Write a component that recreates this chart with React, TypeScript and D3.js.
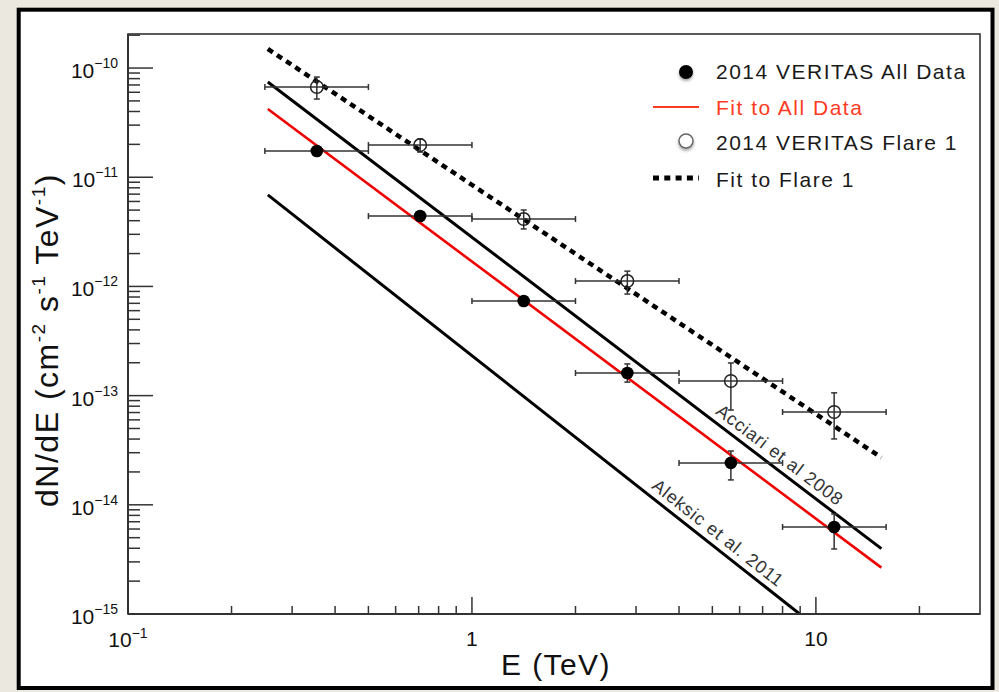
import React from 'react';
import * as d3 from 'd3';

// energy bins (TeV)
const binLow = [0.25, 0.5, 1, 2, 4, 8];
const binHigh = [0.5, 1, 2, 4, 8, 16];
const binCenter = [0.354, 0.707, 1.414, 2.83, 5.66, 11.3];

// 2014 VERITAS All Data
const allFlux = [1.74e-11, 4.41e-12, 7.35e-13, 1.61e-13, 2.42e-14, 6.27e-15];
const allLow = [1.63e-11, 4.14e-12, 6.75e-13, 1.33e-13, 1.69e-14, 3.94e-15];
const allHigh = [1.86e-11, 4.7e-12, 8.0e-13, 1.95e-13, 3.11e-14, 8.24e-15];

// 2014 VERITAS Flare 1
const flareFlux = [6.7e-11, 1.97e-11, 4.14e-12, 1.12e-12, 1.36e-13, 7.08e-14];
const flareLow = [5.2e-11, 1.7e-11, 3.36e-12, 8.51e-13, 7.38e-14, 4.01e-14];
const flareHigh = [8.27e-11, 2.24e-11, 5.01e-12, 1.38e-12, 1.99e-13, 1.06e-13];

// power-law fits: dN/dE = N0 * E^-index (N0 at 1 TeV)
const fitKeys = ['all', 'flare', 'acciari', 'aleksic'];
const fitNorm = [1.69e-12, 8.51e-12, 2.82e-12, 2.32e-13];
const fitIndex = [2.355, 2.098, 2.396, 2.482];
const fitRange = [0.255, 15.5];
const fitLabels = ['', '', 'Acciari et al 2008', 'Aleksic et al. 2011'];

const legendLabels = ['2014 VERITAS All Data', 'Fit to All Data', '2014 VERITAS Flare 1', 'Fit to Flare 1'];

const FONT = '"Liberation Sans", Arial, Helvetica, sans-serif';

export default function App() {
  const W = 999;
  const H = 692;
  const left = 128, right = 980, top = 34, bottom = 614;

  const x = d3.scaleLog().domain([0.1, 30]).range([left, right]);
  const y = d3.scaleLog().domain([1e-15, 2.05e-10]).range([bottom, top]);

  const isMajor = (v: number) => Math.abs(Math.log10(v) - Math.round(Math.log10(v))) < 1e-6;

  const xTicks = x.ticks().filter(v => v < 30);
  const yTicks = y.ticks();

  const powerLaw = (i: number) => (e: number) => fitNorm[i] * Math.pow(e, -fitIndex[i]);
  const line = d3.line<number[]>().x(d => x(d[0])).y(d => y(d[1]));

  const fitStyle: Record<string, any> = {
    all: { stroke: '#f00000', strokeWidth: 2.6 },
    flare: { stroke: '#000', strokeWidth: 4.5, strokeDasharray: '6 5' },
    acciari: { stroke: '#000', strokeWidth: 3 },
    aleksic: { stroke: '#000', strokeWidth: 3 },
  };
  const labelE: Record<string, number> = { acciari: 7.45, aleksic: 4.92 };

  const errColor = '#333';
  const cap = 3;

  const drawErrors = (flux: number[], lo: number[], hi: number[]) =>
    flux.map((f, i) => {
      const cx = x(binCenter[i]);
      const cy = y(f);
      const x0 = x(binLow[i]);
      const x1 = x(binHigh[i]);
      const y0 = y(hi[i]);
      const y1 = y(lo[i]);
      return (
        <g key={i} stroke={errColor} strokeWidth={1.5} fill="none">
          <line x1={x0} x2={x1} y1={cy} y2={cy} />
          <line x1={x0} x2={x0} y1={cy - cap} y2={cy + cap} />
          <line x1={x1} x2={x1} y1={cy - cap} y2={cy + cap} />
          <line x1={cx} x2={cx} y1={y0} y2={y1} />
          <line x1={cx - cap} x2={cx + cap} y1={y0} y2={y0} />
          <line x1={cx - cap} x2={cx + cap} y1={y1} y2={y1} />
        </g>
      );
    });

  const legendY = [72, 107, 141, 178];
  const legendTextY = [79, 115, 150, 187];

  return (
    <div style={{ position: 'absolute', left: 0, top: 0 }}>
      <svg width={W} height={H} style={{ display: 'block', fontFamily: FONT }}>
        <defs>
          <clipPath id="plotClip">
            <rect x={left} y={top} width={right - left} height={bottom - top} />
          </clipPath>
          <filter id="shadow" x="-50%" y="-50%" width="200%" height="200%">
            <feDropShadow dx="0" dy="2" stdDeviation="1.5" floodColor="#000" floodOpacity="0.35" />
          </filter>
        </defs>

        <rect x={0} y={0} width={W} height={H} fill="#ebe8e0" />
        <rect x={18.7} y={9.7} width={973.8} height={678.3} fill="#fff" stroke="#000" strokeWidth={4} />

        {/* fit lines */}
        <g clipPath="url(#plotClip)" fill="none">
          {fitKeys.map((k, i) => {
            const f = powerLaw(i);
            return <path key={k} d={line([[fitRange[0], f(fitRange[0])], [fitRange[1], f(fitRange[1])]]) || ''} {...fitStyle[k]} />;
          })}
        </g>

        {/* labels along reference lines */}
        {fitKeys.map((k, i) => {
          if (!fitLabels[i]) return null;
          const f = powerLaw(i);
          const ax = x(fitRange[0]), ay = y(f(fitRange[0]));
          const bx = x(fitRange[1]), by = y(f(fitRange[1]));
          const angle = (Math.atan2(by - ay, bx - ax) * 180) / Math.PI;
          const px = x(labelE[k]);
          const py = y(f(labelE[k]));
          return (
            <text key={k} transform={`translate(${px},${py}) rotate(${angle})`} dy={-7} textAnchor="middle"
              fontSize={18} letterSpacing={0.9} fill="#333">
              {fitLabels[i]}
            </text>
          );
        })}

        {/* data points */}
        {drawErrors(allFlux, allLow, allHigh)}
        {drawErrors(flareFlux, flareLow, flareHigh)}
        {allFlux.map((f, i) => (
          <circle key={'a' + i} cx={x(binCenter[i])} cy={y(f)} r={6.3} fill="#000" />
        ))}
        {flareFlux.map((f, i) => (
          <circle key={'f' + i} cx={x(binCenter[i])} cy={y(f)} r={6.3} fill="none" stroke="#222" strokeWidth={1.5} />
        ))}

        {/* frame */}
        <rect x={left} y={top} width={right - left} height={bottom - top} fill="none" stroke="#333" strokeWidth={1.6} />
        <line x1={left} x2={left} y1={top} y2={bottom} stroke="#333" strokeWidth={2} />
        <line x1={left} x2={right} y1={bottom} y2={bottom} stroke="#333" strokeWidth={2} />

        {/* x axis ticks */}
        {xTicks.map(v => (
          <line key={'xt' + v} x1={x(v)} x2={x(v)} y1={bottom} y2={bottom - (isMajor(v) ? 17 : 8)} stroke="#333" strokeWidth={1.5} />
        ))}
        {xTicks.filter(isMajor).map(v => {
          const p = Math.round(Math.log10(v));
          if (p === -1) {
            return (
              <text key={'xl' + v} x={x(v)} y={647} textAnchor="middle" fontSize={21} fill="#111">
                10<tspan fontSize={14} dy={-9}>−1</tspan>
              </text>
            );
          }
          return (
            <text key={'xl' + v} x={x(v)} y={646} textAnchor="middle" fontSize={21} fill="#111">
              {v >= 1 ? String(v) : ''}
            </text>
          );
        })}

        {/* y axis ticks */}
        {yTicks.map(v => (
          <line key={'yt' + v} x1={left} x2={left + (isMajor(v) ? 25 : 12)} y1={y(v)} y2={y(v)} stroke="#333" strokeWidth={1.5} />
        ))}
        {yTicks.filter(isMajor).map(v => {
          const p = Math.round(Math.log10(v));
          return (
            <text key={'yl' + v} x={118} y={y(v) + 10} textAnchor="end" fontSize={21} fill="#111">
              10<tspan fontSize={14} dy={-10}>{'−' + Math.abs(p)}</tspan>
            </text>
          );
        })}

        {/* axis titles */}
        <text x={556} y={675} textAnchor="middle" fontSize={30} letterSpacing={1.4} fill="#111">E (TeV)</text>
        <text transform="translate(58,340) rotate(-90)" textAnchor="middle" fontSize={32} letterSpacing={1.5} fill="#111">
          dN/dE (cm<tspan fontSize={19} dy={-13}>-2</tspan>
          <tspan dy={13}> s</tspan>
          <tspan fontSize={19} dy={-13}>-1</tspan>
          <tspan dy={13}> TeV</tspan>
          <tspan fontSize={19} dy={-13}>-1</tspan>
          <tspan dy={13}>)</tspan>
        </text>

        {/* legend */}
        <g>
          <circle cx={686} cy={legendY[0]} r={7} fill="#000" filter="url(#shadow)" />
          <line x1={653} x2={699} y1={legendY[1]} y2={legendY[1]} stroke="#ff3b1f" strokeWidth={2.2} />
          <circle cx={686} cy={legendY[2]} r={7} fill="#fff" stroke="#666" strokeWidth={1.5} filter="url(#shadow)" />
          <line x1={653} x2={699} y1={legendY[3]} y2={legendY[3]} stroke="#000" strokeWidth={5} strokeDasharray="6 5.3" />
          {legendLabels.map((t, i) => (
            <text key={t} x={716} y={legendTextY[i]} fontSize={21} letterSpacing={1.5}
              fill={i === 1 ? '#ff3b1f' : '#1a1a1a'}>
              {t}
            </text>
          ))}
        </g>
      </svg>
    </div>
  );
}
